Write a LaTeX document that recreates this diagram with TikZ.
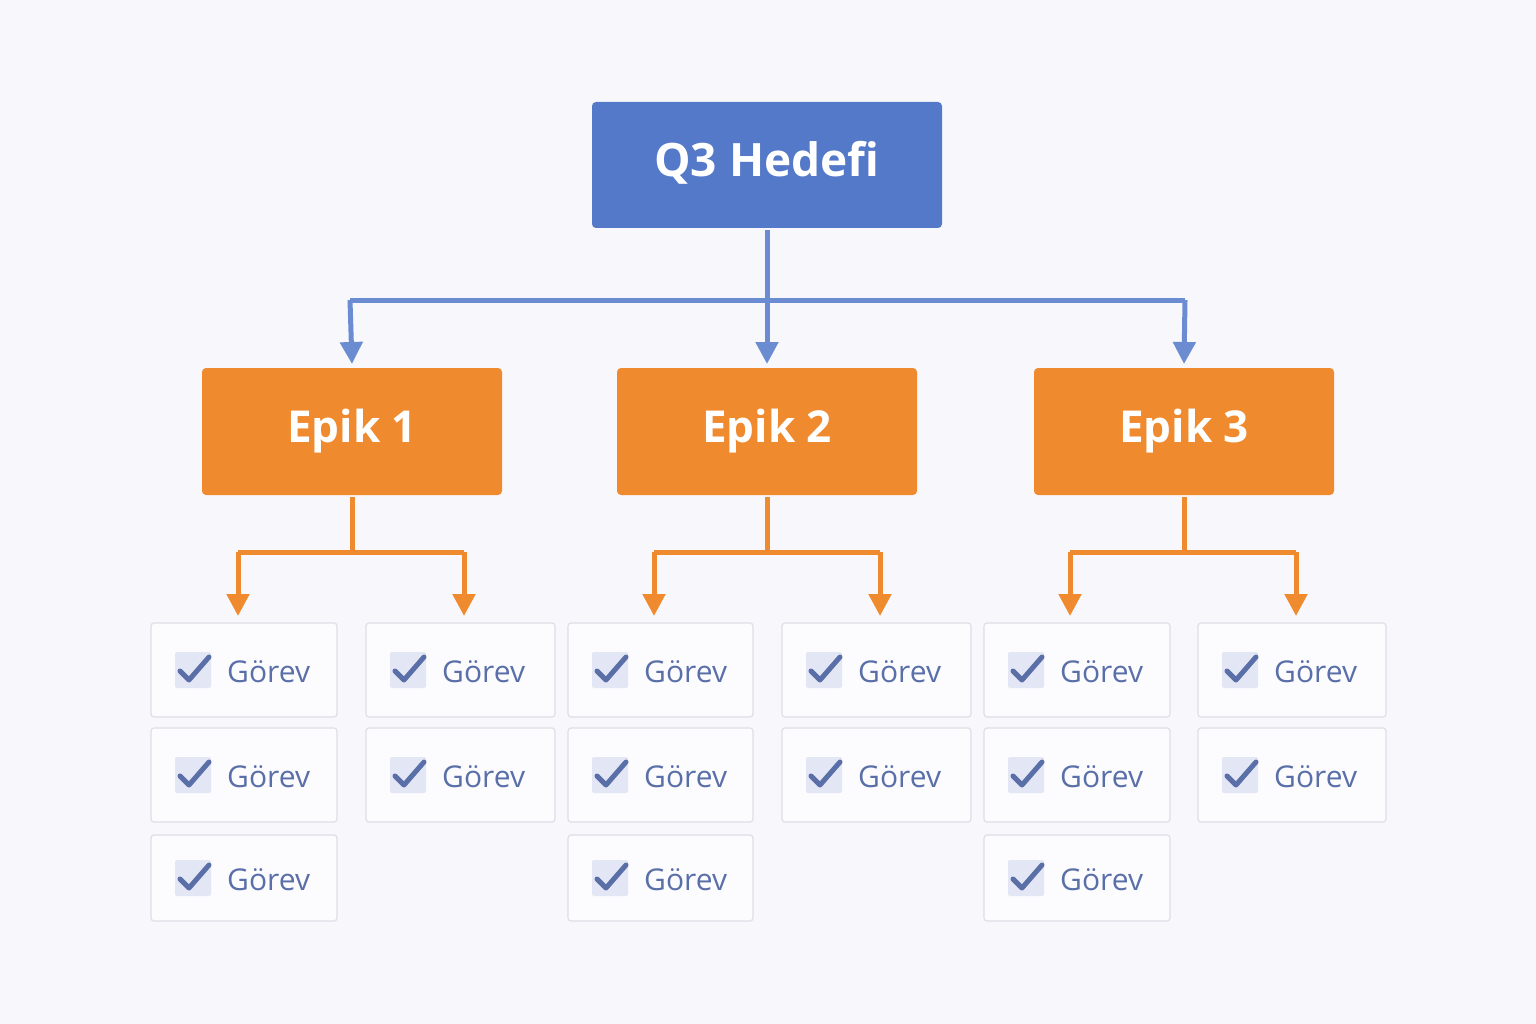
\documentclass[tikz,border=0pt]{standalone}
\usepackage{fontspec}
\setmainfont{Open Sans}
\usetikzlibrary{arrows.meta}
\definecolor{bg}{HTML}{F7F7FC}
\definecolor{qblue}{HTML}{5479C9}
\definecolor{lblue}{HTML}{6B8CD0}
\definecolor{orng}{HTML}{F08A2F}
\definecolor{tblue}{HTML}{5A6FA8}
\definecolor{cbox}{HTML}{E3E6F4}
\definecolor{tbord}{HTML}{DEDFE8}
\begin{document}
\begin{tikzpicture}[x=1pt,y=-1pt,
  goal/.style={fill=qblue,rounded corners=4pt,draw=none},
  epic/.style={fill=orng,rounded corners=4pt,draw=none},
  task/.style={fill=white!60!bg,draw=tbord,line width=1.2pt,rounded corners=3pt},
  bl/.style={draw=lblue,line width=5pt},
  ol/.style={draw=orng,line width=5pt},
  tip/.style={-{Triangle[length=22pt,width=22pt]}}]
\fill[bg] (0,0) rectangle (1536,1024);
\useasboundingbox (0,0) rectangle (1536,1024);
% goal
\fill[goal] (592,102) rectangle (942,228);
\node[text=white,font=\fontsize{46}{50}\selectfont\bfseries] (q) at (767,163) {Q3 Hedefi};
\coordinate (qb) at (767,230);
\coordinate (qj) at (767,300);
% epics
\foreach \i/\x in {1/352,2/767,3/1184}{
  \fill[epic] (\x-150,368) rectangle (\x+150,495);
  \node[text=white,font=\fontsize{44}{48}\selectfont\bfseries] (e\i) at (\x,431) {Epik \i};
  \coordinate (et\i) at (\x,364);
  \coordinate (eb\i) at (\x,497);
  \coordinate (ej\i) at (\x,552);
}
\draw[bl] (qb) -- (qj);
\draw[bl] (350,300) -- (1185,300);
\draw[bl,tip] (350,300) -- (et1);
\draw[bl,tip] (qj) -- (et2);
\draw[bl,tip] (1185,300) -- (et3);
\foreach \i/\a/\b in {1/238/464,2/654/880,3/1070/1296}{
  \draw[ol] (eb\i) -- (ej\i);
  \draw[ol] (\a,552) -- (\b,552);
  \coordinate (ta\i) at (\a,616);
  \coordinate (tb\i) at (\b,616);
  \draw[ol,tip] (\a,552) -- (ta\i);
  \draw[ol,tip] (\b,552) -- (tb\i);
}
% tasks
\foreach \c/\l/\r/\n in {1/151/337/3,2/366/555/2,3/568/753/3,4/782/971/2,5/984/1170/3,6/1198/1386/2}{
  \foreach \row/\t/\bt in {1/623/717,2/728/822,3/835/921}{
    \ifnum\row>\n\else
      \draw[task] (\l,\t) rectangle (\r,\bt);
      \pgfmathsetmacro{\cy}{(\t+\bt)/2}
      \fill[cbox,rounded corners=2pt] (\l+24,\cy-18) rectangle (\l+60,\cy+18);
      \draw[tblue,line width=5pt,line cap=round,line join=round] (\l+29,\cy+1) -- (\l+38,\cy+10) -- (\l+58,\cy-13);
      \node[anchor=west,text=tblue,font=\fontsize{30}{34}\selectfont,inner sep=0] (t\c\row) at (\l+76,\cy+2) {Görev};
    \fi
  }
}
\end{tikzpicture}
\end{document}
